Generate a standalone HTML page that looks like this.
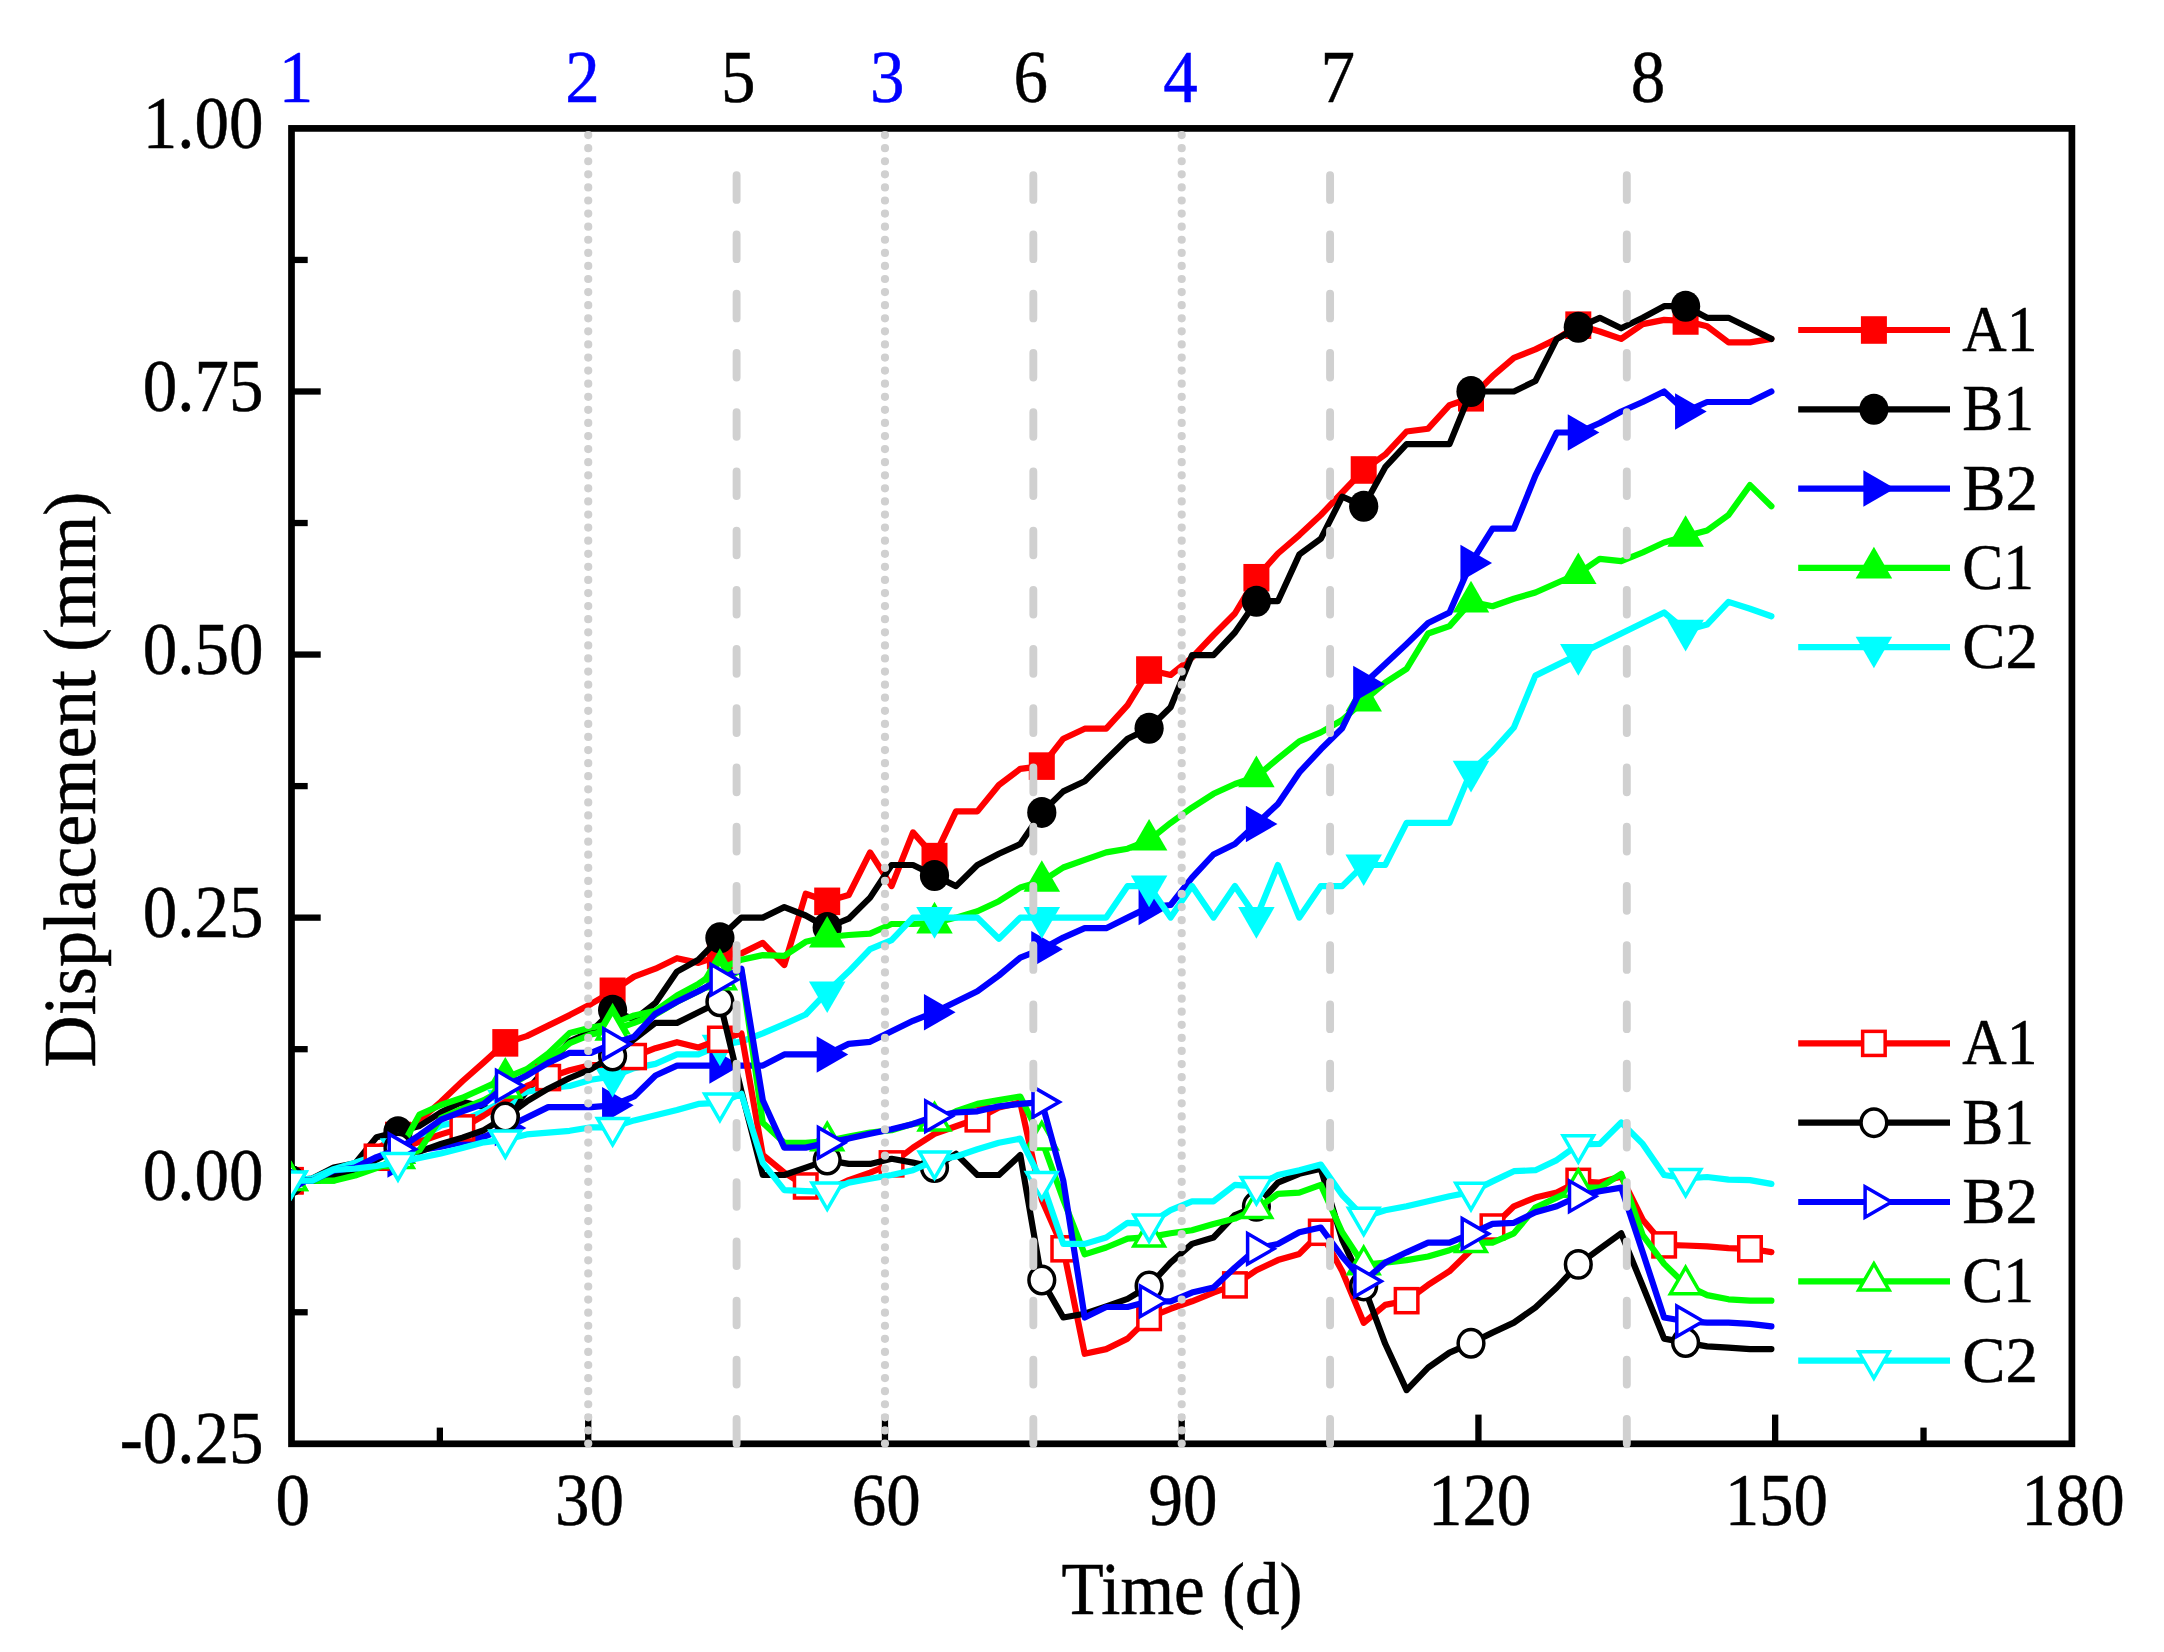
<!DOCTYPE html>
<html><head><meta charset="utf-8"><title>Displacement vs Time</title>
<style>html,body{margin:0;padding:0;background:#fff}svg{display:block}text{font-family:"Liberation Serif", serif;}</style></head><body>
<svg width="2164" height="1652" viewBox="0 0 2164 1652">
<rect width="2164" height="1652" fill="#fff"/>
<defs><clipPath id="cp"><rect x="291.00" y="128.40" width="1780.40" height="1315.40"/></clipPath></defs>
<g stroke="#000" stroke-width="6.30" stroke-linecap="butt">
<line x1="439.87" y1="1443.80" x2="439.87" y2="1427.60"/>
<line x1="588.23" y1="1443.80" x2="588.23" y2="1414.60"/>
<line x1="736.60" y1="1443.80" x2="736.60" y2="1427.60"/>
<line x1="884.97" y1="1443.80" x2="884.97" y2="1414.60"/>
<line x1="1033.33" y1="1443.80" x2="1033.33" y2="1427.60"/>
<line x1="1181.70" y1="1443.80" x2="1181.70" y2="1414.60"/>
<line x1="1330.07" y1="1443.80" x2="1330.07" y2="1427.60"/>
<line x1="1478.43" y1="1443.80" x2="1478.43" y2="1414.60"/>
<line x1="1626.80" y1="1443.80" x2="1626.80" y2="1427.60"/>
<line x1="1775.17" y1="1443.80" x2="1775.17" y2="1414.60"/>
<line x1="1923.53" y1="1443.80" x2="1923.53" y2="1427.60"/>
<line x1="291.50" y1="1312.26" x2="307.70" y2="1312.26"/>
<line x1="291.50" y1="1180.72" x2="320.70" y2="1180.72"/>
<line x1="291.50" y1="1049.18" x2="307.70" y2="1049.18"/>
<line x1="291.50" y1="917.64" x2="320.70" y2="917.64"/>
<line x1="291.50" y1="786.10" x2="307.70" y2="786.10"/>
<line x1="291.50" y1="654.56" x2="320.70" y2="654.56"/>
<line x1="291.50" y1="523.02" x2="307.70" y2="523.02"/>
<line x1="291.50" y1="391.48" x2="320.70" y2="391.48"/>
<line x1="291.50" y1="259.94" x2="307.70" y2="259.94"/>
</g>
<rect x="291.50" y="128.40" width="1780.40" height="1315.40" fill="none" stroke="#000" stroke-width="6.70" stroke-linejoin="miter"/>
<g clip-path="url(#cp)">
<polyline points="290.7,1180.7 312.2,1180.7 333.6,1171.2 355.1,1164.9 376.5,1149.2 398.0,1135.5 419.5,1120.3 440.9,1101.8 462.4,1081.3 483.8,1062.4 505.3,1042.9 526.8,1036.1 548.2,1025.6 569.7,1015.1 591.1,1003.9 612.6,991.3 634.1,976.6 655.5,968.7 677.0,958.2 698.4,962.9 719.9,955.5 741.4,953.4 762.8,942.9 784.3,965.0 805.7,893.8 827.2,901.3 848.7,895.0 870.1,852.4 891.6,886.1 913.0,832.4 934.5,856.6 956.0,811.4 977.4,811.4 998.9,785.0 1020.3,768.8 1041.8,766.1 1063.3,738.7 1084.7,728.7 1106.2,728.7 1127.6,705.1 1149.1,670.0 1170.6,675.0 1192.0,657.7 1213.5,635.0 1234.9,613.5 1256.4,577.7 1277.9,553.5 1299.3,535.1 1320.8,515.0 1342.2,492.5 1363.7,470.0 1385.2,454.6 1406.6,431.5 1428.1,428.7 1449.5,405.2 1471.0,397.8 1492.5,376.2 1513.9,357.8 1535.4,349.4 1556.8,338.9 1578.3,325.2 1599.8,331.5 1621.2,338.9 1642.7,324.1 1664.1,319.9 1685.6,321.0 1707.1,326.2 1728.5,342.4 1750.0,342.4 1771.4,338.9" fill="none" stroke="#ff0000" stroke-width="6.20" stroke-linejoin="round" stroke-linecap="round"/>
<rect x="277.70" y="1166.94" width="26.00" height="27.56" fill="#ff0000" stroke="none"/>
<rect x="385.00" y="1121.69" width="26.00" height="27.56" fill="#ff0000" stroke="none"/>
<rect x="492.30" y="1029.09" width="26.00" height="27.56" fill="#ff0000" stroke="none"/>
<rect x="599.60" y="977.52" width="26.00" height="27.56" fill="#ff0000" stroke="none"/>
<rect x="706.90" y="941.74" width="26.00" height="27.56" fill="#ff0000" stroke="none"/>
<rect x="814.20" y="887.55" width="26.00" height="27.56" fill="#ff0000" stroke="none"/>
<rect x="921.50" y="842.83" width="26.00" height="27.56" fill="#ff0000" stroke="none"/>
<rect x="1028.80" y="752.33" width="26.00" height="27.56" fill="#ff0000" stroke="none"/>
<rect x="1136.10" y="656.25" width="26.00" height="27.56" fill="#ff0000" stroke="none"/>
<rect x="1243.40" y="563.96" width="26.00" height="27.56" fill="#ff0000" stroke="none"/>
<rect x="1350.70" y="456.20" width="26.00" height="27.56" fill="#ff0000" stroke="none"/>
<rect x="1458.00" y="384.01" width="26.00" height="27.56" fill="#ff0000" stroke="none"/>
<rect x="1565.30" y="311.40" width="26.00" height="27.56" fill="#ff0000" stroke="none"/>
<rect x="1672.60" y="307.19" width="26.00" height="27.56" fill="#ff0000" stroke="none"/>
<polyline points="290.7,1180.7 312.2,1178.6 333.6,1167.6 355.1,1163.4 376.5,1137.2 398.0,1131.8 419.5,1126.0 440.9,1112.3 462.4,1101.8 483.8,1107.1 505.3,1117.1 526.8,1091.3 548.2,1065.0 569.7,1041.3 591.1,1031.7 612.6,1010.2 634.1,1019.7 655.5,1002.9 677.0,971.6 698.4,959.7 719.9,937.8 741.4,917.6 762.8,917.6 784.3,907.1 805.7,915.5 827.2,927.5 848.7,918.7 870.1,897.6 891.6,865.0 913.0,865.0 934.5,875.5 956.0,886.1 977.4,865.0 998.9,853.8 1020.3,844.0 1041.8,812.4 1063.3,791.4 1084.7,781.3 1106.2,759.8 1127.6,738.7 1149.1,728.2 1170.6,707.2 1192.0,655.1 1213.5,655.1 1234.9,632.5 1256.4,601.2 1277.9,601.2 1299.3,554.6 1320.8,538.8 1342.2,496.7 1363.7,506.2 1385.2,467.2 1406.6,444.1 1428.1,444.1 1449.5,444.1 1471.0,391.5 1492.5,391.5 1513.9,391.5 1535.4,381.0 1556.8,338.9 1578.3,327.3 1599.8,317.8 1621.2,328.3 1642.7,317.8 1664.1,306.2 1685.6,306.2 1707.1,317.8 1728.5,317.8 1750.0,328.3 1771.4,338.9" fill="none" stroke="#000000" stroke-width="6.20" stroke-linejoin="round" stroke-linecap="round"/>
<ellipse cx="290.70" cy="1180.72" rx="14.60" ry="15.48" fill="#000000" stroke="none"/>
<ellipse cx="398.00" cy="1131.79" rx="14.60" ry="15.48" fill="#000000" stroke="none"/>
<ellipse cx="505.30" cy="1117.05" rx="14.60" ry="15.48" fill="#000000" stroke="none"/>
<ellipse cx="612.60" cy="1010.24" rx="14.60" ry="15.48" fill="#000000" stroke="none"/>
<ellipse cx="719.90" cy="937.84" rx="14.60" ry="15.48" fill="#000000" stroke="none"/>
<ellipse cx="827.20" cy="927.53" rx="14.60" ry="15.48" fill="#000000" stroke="none"/>
<ellipse cx="934.50" cy="875.55" rx="14.60" ry="15.48" fill="#000000" stroke="none"/>
<ellipse cx="1041.80" cy="812.41" rx="14.60" ry="15.48" fill="#000000" stroke="none"/>
<ellipse cx="1149.10" cy="728.22" rx="14.60" ry="15.48" fill="#000000" stroke="none"/>
<ellipse cx="1256.40" cy="601.21" rx="14.60" ry="15.48" fill="#000000" stroke="none"/>
<ellipse cx="1363.70" cy="506.18" rx="14.60" ry="15.48" fill="#000000" stroke="none"/>
<ellipse cx="1471.00" cy="391.48" rx="14.60" ry="15.48" fill="#000000" stroke="none"/>
<ellipse cx="1578.30" cy="327.29" rx="14.60" ry="15.48" fill="#000000" stroke="none"/>
<ellipse cx="1685.60" cy="306.24" rx="14.60" ry="15.48" fill="#000000" stroke="none"/>
<polyline points="290.7,1180.7 312.2,1180.7 333.6,1180.7 355.1,1172.3 376.5,1163.9 398.0,1153.4 419.5,1114.6 440.9,1105.0 462.4,1097.8 483.8,1088.1 505.3,1078.0 526.8,1069.2 548.2,1053.4 569.7,1033.0 591.1,1027.5 612.6,1023.9 634.1,1015.5 655.5,1010.8 677.0,995.5 698.4,983.9 719.9,969.4 741.4,959.7 762.8,955.1 784.3,955.8 805.7,941.8 827.2,937.0 848.7,935.0 870.1,933.7 891.6,924.0 913.0,924.0 934.5,922.9 956.0,917.6 977.4,911.3 998.9,901.2 1020.3,887.5 1041.8,881.3 1063.3,867.5 1084.7,859.8 1106.2,852.4 1127.6,848.7 1149.1,840.1 1170.6,822.9 1192.0,807.6 1213.5,793.8 1234.9,784.0 1256.4,776.6 1277.9,758.7 1299.3,741.3 1320.8,732.4 1342.2,720.0 1363.7,700.9 1385.2,682.6 1406.6,668.8 1428.1,633.5 1449.5,626.1 1471.0,601.9 1492.5,606.2 1513.9,598.8 1535.4,592.5 1556.8,583.0 1578.3,573.5 1599.8,558.8 1621.2,561.2 1642.7,552.5 1664.1,542.5 1685.6,536.3 1707.1,530.4 1728.5,515.0 1750.0,485.1 1771.4,506.2" fill="none" stroke="#00ff00" stroke-width="6.20" stroke-linejoin="round" stroke-linecap="round"/>
<polygon points="290.70,1159.65 308.95,1191.26 272.45,1191.26" fill="#00ff00" stroke="none"/>
<polygon points="398.00,1132.29 416.25,1163.90 379.75,1163.90" fill="#00ff00" stroke="none"/>
<polygon points="505.30,1056.94 523.55,1088.55 487.05,1088.55" fill="#00ff00" stroke="none"/>
<polygon points="612.60,1002.85 630.85,1034.46 594.35,1034.46" fill="#00ff00" stroke="none"/>
<polygon points="719.90,948.34 738.15,979.95 701.65,979.95" fill="#00ff00" stroke="none"/>
<polygon points="827.20,915.93 845.45,947.54 808.95,947.54" fill="#00ff00" stroke="none"/>
<polygon points="934.50,901.83 952.75,933.44 916.25,933.44" fill="#00ff00" stroke="none"/>
<polygon points="1041.80,860.26 1060.05,891.87 1023.55,891.87" fill="#00ff00" stroke="none"/>
<polygon points="1149.10,819.01 1167.35,850.62 1130.85,850.62" fill="#00ff00" stroke="none"/>
<polygon points="1256.40,755.56 1274.65,787.17 1238.15,787.17" fill="#00ff00" stroke="none"/>
<polygon points="1363.70,679.79 1381.95,711.40 1345.45,711.40" fill="#00ff00" stroke="none"/>
<polygon points="1471.00,580.87 1489.25,612.48 1452.75,612.48" fill="#00ff00" stroke="none"/>
<polygon points="1578.30,552.46 1596.55,584.07 1560.05,584.07" fill="#00ff00" stroke="none"/>
<polygon points="1685.60,515.21 1703.85,546.82 1667.35,546.82" fill="#00ff00" stroke="none"/>
<polyline points="290.7,1180.7 312.2,1180.7 333.6,1171.2 355.1,1168.1 376.5,1162.8 398.0,1159.5 419.5,1150.2 440.9,1146.6 462.4,1142.1 483.8,1136.8 505.3,1128.1 526.8,1117.6 548.2,1107.1 569.7,1107.1 591.1,1107.1 612.6,1105.4 634.1,1096.5 655.5,1075.5 677.0,1065.6 698.4,1065.6 719.9,1065.6 741.4,1065.6 762.8,1065.6 784.3,1054.4 805.7,1054.4 827.2,1054.4 848.7,1043.9 870.1,1041.8 891.6,1031.3 913.0,1020.8 934.5,1012.3 956.0,1001.8 977.4,991.3 998.9,975.5 1020.3,957.6 1041.8,949.2 1063.3,937.6 1084.7,928.2 1106.2,928.2 1127.6,917.6 1149.1,907.1 1170.6,905.0 1192.0,877.7 1213.5,854.5 1234.9,844.0 1256.4,824.0 1277.9,804.0 1299.3,772.4 1320.8,749.3 1342.2,728.2 1363.7,684.0 1385.2,664.0 1406.6,644.0 1428.1,623.0 1449.5,612.5 1471.0,563.0 1492.5,528.7 1513.9,528.7 1535.4,475.7 1556.8,432.5 1578.3,432.5 1599.8,423.0 1621.2,411.5 1642.7,402.0 1664.1,391.5 1685.6,411.5 1707.1,402.0 1728.5,402.0 1750.0,402.0 1771.4,391.5" fill="none" stroke="#0000ff" stroke-width="6.20" stroke-linejoin="round" stroke-linecap="round"/>
<polygon points="311.77,1180.72 280.16,1162.47 280.16,1198.97" fill="#0000ff" stroke="none"/>
<polygon points="419.07,1159.46 387.46,1141.21 387.46,1177.71" fill="#0000ff" stroke="none"/>
<polygon points="526.37,1128.10 494.76,1109.85 494.76,1146.35" fill="#0000ff" stroke="none"/>
<polygon points="633.67,1105.37 602.06,1087.12 602.06,1123.62" fill="#0000ff" stroke="none"/>
<polygon points="740.97,1065.60 709.36,1047.35 709.36,1083.85" fill="#0000ff" stroke="none"/>
<polygon points="848.27,1054.44 816.66,1036.19 816.66,1072.69" fill="#0000ff" stroke="none"/>
<polygon points="955.57,1012.35 923.96,994.10 923.96,1030.60" fill="#0000ff" stroke="none"/>
<polygon points="1062.87,949.21 1031.26,930.96 1031.26,967.46" fill="#0000ff" stroke="none"/>
<polygon points="1170.17,907.12 1138.56,888.87 1138.56,925.37" fill="#0000ff" stroke="none"/>
<polygon points="1277.47,823.98 1245.86,805.73 1245.86,842.23" fill="#0000ff" stroke="none"/>
<polygon points="1384.77,684.02 1353.16,665.77 1353.16,702.27" fill="#0000ff" stroke="none"/>
<polygon points="1492.07,563.01 1460.46,544.76 1460.46,581.26" fill="#0000ff" stroke="none"/>
<polygon points="1599.37,432.52 1567.76,414.27 1567.76,450.77" fill="#0000ff" stroke="none"/>
<polygon points="1706.67,411.47 1675.06,393.22 1675.06,429.72" fill="#0000ff" stroke="none"/>
<polyline points="290.7,1180.7 312.2,1178.6 333.6,1169.1 355.1,1162.8 376.5,1155.5 398.0,1148.7 419.5,1138.6 440.9,1125.5 462.4,1120.7 483.8,1111.3 505.3,1100.2 526.8,1091.8 548.2,1088.1 569.7,1086.0 591.1,1079.7 612.6,1076.5 634.1,1068.1 655.5,1063.9 677.0,1054.4 698.4,1054.4 719.9,1045.3 741.4,1041.5 762.8,1033.4 784.3,1024.2 805.7,1014.5 827.2,991.9 848.7,971.6 870.1,949.2 891.6,940.1 913.0,917.6 934.5,917.6 956.0,917.6 977.4,917.6 998.9,938.7 1020.3,917.6 1041.8,917.6 1063.3,917.6 1084.7,917.6 1106.2,917.6 1127.6,886.1 1149.1,886.1 1170.6,917.6 1192.0,886.1 1213.5,917.6 1234.9,886.1 1256.4,917.6 1277.9,865.0 1299.3,917.6 1320.8,886.1 1342.2,886.1 1363.7,865.0 1385.2,865.0 1406.6,822.9 1428.1,822.9 1449.5,822.9 1471.0,771.4 1492.5,751.4 1513.9,727.5 1535.4,675.6 1556.8,665.1 1578.3,654.6 1599.8,644.0 1621.2,633.5 1642.7,623.0 1664.1,612.5 1685.6,630.4 1707.1,624.5 1728.5,601.9 1750.0,608.8 1771.4,616.3" fill="none" stroke="#00ffff" stroke-width="6.20" stroke-linejoin="round" stroke-linecap="round"/>
<polygon points="290.70,1201.79 308.95,1170.18 272.45,1170.18" fill="#00ffff" stroke="none"/>
<polygon points="398.00,1169.80 416.25,1138.19 379.75,1138.19" fill="#00ffff" stroke="none"/>
<polygon points="505.30,1121.29 523.55,1089.68 487.05,1089.68" fill="#00ffff" stroke="none"/>
<polygon points="612.60,1097.61 630.85,1066.00 594.35,1066.00" fill="#00ffff" stroke="none"/>
<polygon points="719.90,1066.36 738.15,1034.75 701.65,1034.75" fill="#00ffff" stroke="none"/>
<polygon points="827.20,1013.01 845.45,981.40 808.95,981.40" fill="#00ffff" stroke="none"/>
<polygon points="934.50,938.71 952.75,907.10 916.25,907.10" fill="#00ffff" stroke="none"/>
<polygon points="1041.80,938.71 1060.05,907.10 1023.55,907.10" fill="#00ffff" stroke="none"/>
<polygon points="1149.10,907.14 1167.35,875.53 1130.85,875.53" fill="#00ffff" stroke="none"/>
<polygon points="1256.40,938.71 1274.65,907.10 1238.15,907.10" fill="#00ffff" stroke="none"/>
<polygon points="1363.70,886.10 1381.95,854.49 1345.45,854.49" fill="#00ffff" stroke="none"/>
<polygon points="1471.00,792.44 1489.25,760.83 1452.75,760.83" fill="#00ffff" stroke="none"/>
<polygon points="1578.30,675.63 1596.55,644.02 1560.05,644.02" fill="#00ffff" stroke="none"/>
<polygon points="1685.60,651.43 1703.85,619.82 1667.35,619.82" fill="#00ffff" stroke="none"/>
<polyline points="290.7,1180.7 312.2,1180.7 333.6,1171.2 355.1,1168.1 376.5,1157.3 398.0,1149.2 419.5,1141.8 440.9,1134.4 462.4,1127.9 483.8,1115.5 505.3,1101.8 526.8,1086.0 548.2,1077.6 569.7,1070.2 591.1,1065.0 612.6,1065.0 634.1,1056.5 655.5,1048.2 677.0,1042.2 698.4,1047.5 719.9,1039.3 741.4,1033.4 762.8,1155.0 784.3,1172.6 805.7,1186.0 827.2,1190.2 848.7,1180.1 870.1,1172.6 891.6,1163.9 913.0,1147.6 934.5,1133.8 956.0,1126.3 977.4,1118.8 998.9,1107.6 1020.3,1102.5 1041.8,1199.7 1063.3,1248.8 1084.7,1353.8 1106.2,1349.1 1127.6,1338.6 1149.1,1317.5 1170.6,1308.8 1192.0,1301.3 1213.5,1292.6 1234.9,1284.9 1256.4,1270.2 1277.9,1260.1 1299.3,1253.9 1320.8,1232.3 1342.2,1271.2 1363.7,1322.8 1385.2,1304.9 1406.6,1300.7 1428.1,1284.9 1449.5,1271.2 1471.0,1250.2 1492.5,1227.0 1513.9,1206.3 1535.4,1197.6 1556.8,1192.6 1578.3,1181.4 1599.8,1182.6 1621.2,1176.5 1642.7,1219.7 1664.1,1244.9 1685.6,1245.5 1707.1,1246.3 1728.5,1248.1 1750.0,1248.8 1771.4,1252.1" fill="none" stroke="#ff0000" stroke-width="6.20" stroke-linejoin="round" stroke-linecap="round"/>
<rect x="279.45" y="1168.69" width="22.50" height="24.06" fill="#fff" stroke="#ff0000" stroke-width="3.50" stroke-linejoin="miter"/>
<rect x="365.29" y="1145.22" width="22.50" height="24.06" fill="#fff" stroke="#ff0000" stroke-width="3.50" stroke-linejoin="miter"/>
<rect x="451.13" y="1115.86" width="22.50" height="24.06" fill="#fff" stroke="#ff0000" stroke-width="3.50" stroke-linejoin="miter"/>
<rect x="536.97" y="1065.56" width="22.50" height="24.06" fill="#fff" stroke="#ff0000" stroke-width="3.50" stroke-linejoin="miter"/>
<rect x="622.81" y="1044.52" width="22.50" height="24.06" fill="#fff" stroke="#ff0000" stroke-width="3.50" stroke-linejoin="miter"/>
<rect x="708.65" y="1027.26" width="22.50" height="24.06" fill="#fff" stroke="#ff0000" stroke-width="3.50" stroke-linejoin="miter"/>
<rect x="794.49" y="1173.95" width="22.50" height="24.06" fill="#fff" stroke="#ff0000" stroke-width="3.50" stroke-linejoin="miter"/>
<rect x="880.33" y="1151.85" width="22.50" height="24.06" fill="#fff" stroke="#ff0000" stroke-width="3.50" stroke-linejoin="miter"/>
<rect x="966.17" y="1106.81" width="22.50" height="24.06" fill="#fff" stroke="#ff0000" stroke-width="3.50" stroke-linejoin="miter"/>
<rect x="1052.01" y="1236.78" width="22.50" height="24.06" fill="#fff" stroke="#ff0000" stroke-width="3.50" stroke-linejoin="miter"/>
<rect x="1137.85" y="1305.49" width="22.50" height="24.06" fill="#fff" stroke="#ff0000" stroke-width="3.50" stroke-linejoin="miter"/>
<rect x="1223.69" y="1272.87" width="22.50" height="24.06" fill="#fff" stroke="#ff0000" stroke-width="3.50" stroke-linejoin="miter"/>
<rect x="1309.53" y="1220.25" width="22.50" height="24.06" fill="#fff" stroke="#ff0000" stroke-width="3.50" stroke-linejoin="miter"/>
<rect x="1395.37" y="1288.65" width="22.50" height="24.06" fill="#fff" stroke="#ff0000" stroke-width="3.50" stroke-linejoin="miter"/>
<rect x="1481.21" y="1214.99" width="22.50" height="24.06" fill="#fff" stroke="#ff0000" stroke-width="3.50" stroke-linejoin="miter"/>
<rect x="1567.05" y="1169.32" width="22.50" height="24.06" fill="#fff" stroke="#ff0000" stroke-width="3.50" stroke-linejoin="miter"/>
<rect x="1652.89" y="1232.88" width="22.50" height="24.06" fill="#fff" stroke="#ff0000" stroke-width="3.50" stroke-linejoin="miter"/>
<rect x="1738.73" y="1236.78" width="22.50" height="24.06" fill="#fff" stroke="#ff0000" stroke-width="3.50" stroke-linejoin="miter"/>
<polyline points="290.7,1180.7 312.2,1180.7 333.6,1176.5 355.1,1172.3 376.5,1159.7 398.0,1148.1 419.5,1151.7 440.9,1143.9 462.4,1137.6 483.8,1130.2 505.3,1117.1 526.8,1101.4 548.2,1088.7 569.7,1078.0 591.1,1069.2 612.6,1056.0 634.1,1039.3 655.5,1022.9 677.0,1022.9 698.4,1012.3 719.9,1001.8 741.4,1091.3 762.8,1175.0 784.3,1175.0 805.7,1167.6 827.2,1160.1 848.7,1163.9 870.1,1163.9 891.6,1158.8 913.0,1162.6 934.5,1167.6 956.0,1153.8 977.4,1175.0 998.9,1175.0 1020.3,1155.0 1041.8,1280.1 1063.3,1317.5 1084.7,1313.8 1106.2,1306.4 1127.6,1298.8 1149.1,1286.0 1170.6,1262.6 1192.0,1243.9 1213.5,1237.5 1234.9,1215.0 1256.4,1206.3 1277.9,1182.6 1299.3,1173.8 1320.8,1168.8 1342.2,1239.6 1363.7,1286.0 1385.2,1343.8 1406.6,1390.1 1428.1,1367.6 1449.5,1352.6 1471.0,1343.3 1492.5,1332.6 1513.9,1322.6 1535.4,1307.5 1556.8,1287.5 1578.3,1264.4 1599.8,1248.8 1621.2,1233.3 1642.7,1286.0 1664.1,1338.6 1685.6,1342.6 1707.1,1346.4 1728.5,1347.6 1750.0,1349.1 1771.4,1349.1" fill="none" stroke="#000000" stroke-width="6.20" stroke-linejoin="round" stroke-linecap="round"/>
<ellipse cx="290.70" cy="1180.72" rx="12.85" ry="13.73" fill="#fff" stroke="#000000" stroke-width="3.50" stroke-linejoin="miter"/>
<ellipse cx="398.00" cy="1148.10" rx="12.85" ry="13.73" fill="#fff" stroke="#000000" stroke-width="3.50" stroke-linejoin="miter"/>
<ellipse cx="505.30" cy="1117.05" rx="12.85" ry="13.73" fill="#fff" stroke="#000000" stroke-width="3.50" stroke-linejoin="miter"/>
<ellipse cx="612.60" cy="1056.02" rx="12.85" ry="13.73" fill="#fff" stroke="#000000" stroke-width="3.50" stroke-linejoin="miter"/>
<ellipse cx="719.90" cy="1001.83" rx="12.85" ry="13.73" fill="#fff" stroke="#000000" stroke-width="3.50" stroke-linejoin="miter"/>
<ellipse cx="827.20" cy="1160.09" rx="12.85" ry="13.73" fill="#fff" stroke="#000000" stroke-width="3.50" stroke-linejoin="miter"/>
<ellipse cx="934.50" cy="1167.57" rx="12.85" ry="13.73" fill="#fff" stroke="#000000" stroke-width="3.50" stroke-linejoin="miter"/>
<ellipse cx="1041.80" cy="1280.06" rx="12.85" ry="13.73" fill="#fff" stroke="#000000" stroke-width="3.50" stroke-linejoin="miter"/>
<ellipse cx="1149.10" cy="1285.95" rx="12.85" ry="13.73" fill="#fff" stroke="#000000" stroke-width="3.50" stroke-linejoin="miter"/>
<ellipse cx="1256.40" cy="1206.29" rx="12.85" ry="13.73" fill="#fff" stroke="#000000" stroke-width="3.50" stroke-linejoin="miter"/>
<ellipse cx="1363.70" cy="1285.95" rx="12.85" ry="13.73" fill="#fff" stroke="#000000" stroke-width="3.50" stroke-linejoin="miter"/>
<ellipse cx="1471.00" cy="1343.30" rx="12.85" ry="13.73" fill="#fff" stroke="#000000" stroke-width="3.50" stroke-linejoin="miter"/>
<ellipse cx="1578.30" cy="1264.38" rx="12.85" ry="13.73" fill="#fff" stroke="#000000" stroke-width="3.50" stroke-linejoin="miter"/>
<ellipse cx="1685.60" cy="1342.57" rx="12.85" ry="13.73" fill="#fff" stroke="#000000" stroke-width="3.50" stroke-linejoin="miter"/>
<polyline points="290.7,1180.7 312.2,1180.7 333.6,1180.7 355.1,1175.5 376.5,1168.1 398.0,1158.6 419.5,1150.2 440.9,1118.2 462.4,1108.6 483.8,1100.2 505.3,1088.1 526.8,1075.5 548.2,1059.7 569.7,1043.2 591.1,1034.4 612.6,1030.2 634.1,1022.9 655.5,1014.5 677.0,1001.8 698.4,991.3 719.9,979.9 741.4,970.3 762.8,1122.8 784.3,1142.8 805.7,1142.8 827.2,1141.0 848.7,1136.5 870.1,1132.5 891.6,1130.2 913.0,1123.9 934.5,1121.3 956.0,1111.3 977.4,1103.9 998.9,1100.1 1020.3,1096.5 1041.8,1140.1 1063.3,1199.7 1084.7,1254.4 1106.2,1247.5 1127.6,1238.6 1149.1,1237.1 1170.6,1233.3 1192.0,1230.2 1213.5,1223.9 1234.9,1218.6 1256.4,1208.8 1277.9,1193.9 1299.3,1192.6 1320.8,1184.9 1342.2,1232.3 1363.7,1264.9 1385.2,1262.6 1406.6,1260.1 1428.1,1256.5 1449.5,1250.2 1471.0,1242.6 1492.5,1242.6 1513.9,1233.3 1535.4,1207.6 1556.8,1197.6 1578.3,1187.6 1599.8,1187.6 1621.2,1173.8 1642.7,1235.1 1664.1,1263.9 1685.6,1284.9 1707.1,1295.1 1728.5,1299.3 1750.0,1300.7 1771.4,1300.7" fill="none" stroke="#00ff00" stroke-width="6.20" stroke-linejoin="round" stroke-linecap="round"/>
<polygon points="290.70,1163.15 305.92,1189.51 275.48,1189.51" fill="#fff" stroke="#00ff00" stroke-width="3.50" stroke-linejoin="miter"/>
<polygon points="398.00,1141.05 413.22,1167.41 382.78,1167.41" fill="#fff" stroke="#00ff00" stroke-width="3.50" stroke-linejoin="miter"/>
<polygon points="505.30,1070.54 520.52,1096.90 490.08,1096.90" fill="#fff" stroke="#00ff00" stroke-width="3.50" stroke-linejoin="miter"/>
<polygon points="612.60,1012.66 627.82,1039.02 597.38,1039.02" fill="#fff" stroke="#00ff00" stroke-width="3.50" stroke-linejoin="miter"/>
<polygon points="719.90,962.36 735.12,988.72 704.68,988.72" fill="#fff" stroke="#00ff00" stroke-width="3.50" stroke-linejoin="miter"/>
<polygon points="827.20,1123.47 842.42,1149.83 811.98,1149.83" fill="#fff" stroke="#00ff00" stroke-width="3.50" stroke-linejoin="miter"/>
<polygon points="934.50,1103.69 949.72,1130.05 919.28,1130.05" fill="#fff" stroke="#00ff00" stroke-width="3.50" stroke-linejoin="miter"/>
<polygon points="1041.80,1122.53 1057.02,1148.89 1026.58,1148.89" fill="#fff" stroke="#00ff00" stroke-width="3.50" stroke-linejoin="miter"/>
<polygon points="1149.10,1219.55 1164.32,1245.91 1133.88,1245.91" fill="#fff" stroke="#00ff00" stroke-width="3.50" stroke-linejoin="miter"/>
<polygon points="1256.40,1191.24 1271.62,1217.60 1241.18,1217.60" fill="#fff" stroke="#00ff00" stroke-width="3.50" stroke-linejoin="miter"/>
<polygon points="1363.70,1247.33 1378.92,1273.69 1348.48,1273.69" fill="#fff" stroke="#00ff00" stroke-width="3.50" stroke-linejoin="miter"/>
<polygon points="1471.00,1225.02 1486.22,1251.38 1455.78,1251.38" fill="#fff" stroke="#00ff00" stroke-width="3.50" stroke-linejoin="miter"/>
<polygon points="1578.30,1169.99 1593.52,1196.35 1563.08,1196.35" fill="#fff" stroke="#00ff00" stroke-width="3.50" stroke-linejoin="miter"/>
<polygon points="1685.60,1267.33 1700.82,1293.69 1670.38,1293.69" fill="#fff" stroke="#00ff00" stroke-width="3.50" stroke-linejoin="miter"/>
<polyline points="290.7,1180.7 312.2,1180.7 333.6,1170.7 355.1,1167.6 376.5,1157.1 398.0,1149.4 419.5,1135.0 440.9,1119.7 462.4,1111.3 483.8,1103.9 505.3,1085.8 526.8,1075.5 548.2,1062.9 569.7,1052.8 591.1,1052.8 612.6,1043.9 634.1,1036.6 655.5,1013.7 677.0,1001.8 698.4,991.3 719.9,979.7 741.4,968.7 762.8,1100.2 784.3,1147.6 805.7,1147.6 827.2,1142.8 848.7,1138.6 870.1,1133.8 891.6,1129.2 913.0,1123.9 934.5,1116.3 956.0,1112.5 977.4,1111.3 998.9,1106.3 1020.3,1103.9 1041.8,1102.1 1063.3,1180.7 1084.7,1317.5 1106.2,1307.0 1127.6,1307.0 1149.1,1301.3 1170.6,1301.3 1192.0,1292.6 1213.5,1287.5 1234.9,1267.5 1256.4,1248.8 1277.9,1243.9 1299.3,1232.3 1320.8,1227.5 1342.2,1256.5 1363.7,1281.3 1385.2,1262.6 1406.6,1252.3 1428.1,1242.6 1449.5,1242.6 1471.0,1233.9 1492.5,1223.9 1513.9,1222.8 1535.4,1212.3 1556.8,1206.3 1578.3,1196.3 1599.8,1191.2 1621.2,1187.6 1642.7,1252.3 1664.1,1317.5 1685.6,1321.3 1707.1,1322.6 1728.5,1322.6 1750.0,1323.8 1771.4,1326.4" fill="none" stroke="#0000ff" stroke-width="6.20" stroke-linejoin="round" stroke-linecap="round"/>
<polygon points="308.27,1180.72 281.91,1165.50 281.91,1195.94" fill="#fff" stroke="#0000ff" stroke-width="3.50" stroke-linejoin="miter"/>
<polygon points="415.57,1149.36 389.21,1134.14 389.21,1164.58" fill="#fff" stroke="#0000ff" stroke-width="3.50" stroke-linejoin="miter"/>
<polygon points="522.87,1085.80 496.51,1070.58 496.51,1101.02" fill="#fff" stroke="#0000ff" stroke-width="3.50" stroke-linejoin="miter"/>
<polygon points="630.17,1043.92 603.81,1028.70 603.81,1059.14" fill="#fff" stroke="#0000ff" stroke-width="3.50" stroke-linejoin="miter"/>
<polygon points="737.47,979.73 711.11,964.51 711.11,994.95" fill="#fff" stroke="#0000ff" stroke-width="3.50" stroke-linejoin="miter"/>
<polygon points="844.77,1142.84 818.41,1127.62 818.41,1158.06" fill="#fff" stroke="#0000ff" stroke-width="3.50" stroke-linejoin="miter"/>
<polygon points="952.07,1116.32 925.71,1101.10 925.71,1131.54" fill="#fff" stroke="#0000ff" stroke-width="3.50" stroke-linejoin="miter"/>
<polygon points="1059.37,1102.11 1033.01,1086.89 1033.01,1117.33" fill="#fff" stroke="#0000ff" stroke-width="3.50" stroke-linejoin="miter"/>
<polygon points="1166.67,1301.32 1140.31,1286.10 1140.31,1316.53" fill="#fff" stroke="#0000ff" stroke-width="3.50" stroke-linejoin="miter"/>
<polygon points="1273.97,1248.81 1247.61,1233.59 1247.61,1264.02" fill="#fff" stroke="#0000ff" stroke-width="3.50" stroke-linejoin="miter"/>
<polygon points="1381.27,1281.32 1354.91,1266.10 1354.91,1296.54" fill="#fff" stroke="#0000ff" stroke-width="3.50" stroke-linejoin="miter"/>
<polygon points="1488.57,1233.86 1462.21,1218.64 1462.21,1249.08" fill="#fff" stroke="#0000ff" stroke-width="3.50" stroke-linejoin="miter"/>
<polygon points="1595.87,1196.29 1569.51,1181.08 1569.51,1211.51" fill="#fff" stroke="#0000ff" stroke-width="3.50" stroke-linejoin="miter"/>
<polygon points="1703.17,1321.31 1676.81,1306.09 1676.81,1336.53" fill="#fff" stroke="#0000ff" stroke-width="3.50" stroke-linejoin="miter"/>
<polyline points="290.7,1180.7 312.2,1180.7 333.6,1169.9 355.1,1168.6 376.5,1166.0 398.0,1162.4 419.5,1157.9 440.9,1153.4 462.4,1148.1 483.8,1142.3 505.3,1139.7 526.8,1134.4 548.2,1132.6 569.7,1130.8 591.1,1127.3 612.6,1127.3 634.1,1120.4 655.5,1115.2 677.0,1109.9 698.4,1103.9 719.9,1102.8 741.4,1093.8 762.8,1162.8 784.3,1190.2 805.7,1191.2 827.2,1191.8 848.7,1182.6 870.1,1178.8 891.6,1175.0 913.0,1170.2 934.5,1160.7 956.0,1156.5 977.4,1149.2 998.9,1142.8 1020.3,1138.6 1041.8,1181.4 1063.3,1243.9 1084.7,1243.9 1106.2,1237.5 1127.6,1222.8 1149.1,1223.9 1170.6,1210.2 1192.0,1201.3 1213.5,1201.3 1234.9,1184.9 1256.4,1186.3 1277.9,1175.0 1299.3,1170.2 1320.8,1164.6 1342.2,1195.0 1363.7,1217.0 1385.2,1210.2 1406.6,1206.3 1428.1,1201.3 1449.5,1196.3 1471.0,1192.1 1492.5,1181.4 1513.9,1171.2 1535.4,1170.2 1556.8,1160.1 1578.3,1144.5 1599.8,1143.9 1621.2,1122.5 1642.7,1143.9 1664.1,1175.0 1685.6,1178.3 1707.1,1177.0 1728.5,1179.7 1750.0,1180.1 1771.4,1183.9" fill="none" stroke="#00ffff" stroke-width="6.20" stroke-linejoin="round" stroke-linecap="round"/>
<polygon points="290.70,1198.29 305.92,1171.93 275.48,1171.93" fill="#fff" stroke="#00ffff" stroke-width="3.50" stroke-linejoin="miter"/>
<polygon points="398.00,1179.98 413.22,1153.62 382.78,1153.62" fill="#fff" stroke="#00ffff" stroke-width="3.50" stroke-linejoin="miter"/>
<polygon points="505.30,1157.25 520.52,1130.89 490.08,1130.89" fill="#fff" stroke="#00ffff" stroke-width="3.50" stroke-linejoin="miter"/>
<polygon points="612.60,1144.84 627.82,1118.48 597.38,1118.48" fill="#fff" stroke="#00ffff" stroke-width="3.50" stroke-linejoin="miter"/>
<polygon points="719.90,1120.42 735.12,1094.06 704.68,1094.06" fill="#fff" stroke="#00ffff" stroke-width="3.50" stroke-linejoin="miter"/>
<polygon points="827.20,1209.34 842.42,1182.98 811.98,1182.98" fill="#fff" stroke="#00ffff" stroke-width="3.50" stroke-linejoin="miter"/>
<polygon points="934.50,1178.30 949.72,1151.94 919.28,1151.94" fill="#fff" stroke="#00ffff" stroke-width="3.50" stroke-linejoin="miter"/>
<polygon points="1041.80,1198.92 1057.02,1172.56 1026.58,1172.56" fill="#fff" stroke="#00ffff" stroke-width="3.50" stroke-linejoin="miter"/>
<polygon points="1149.10,1241.44 1164.32,1215.08 1133.88,1215.08" fill="#fff" stroke="#00ffff" stroke-width="3.50" stroke-linejoin="miter"/>
<polygon points="1256.40,1203.87 1271.62,1177.51 1241.18,1177.51" fill="#fff" stroke="#00ffff" stroke-width="3.50" stroke-linejoin="miter"/>
<polygon points="1363.70,1234.60 1378.92,1208.24 1348.48,1208.24" fill="#fff" stroke="#00ffff" stroke-width="3.50" stroke-linejoin="miter"/>
<polygon points="1471.00,1209.66 1486.22,1183.30 1455.78,1183.30" fill="#fff" stroke="#00ffff" stroke-width="3.50" stroke-linejoin="miter"/>
<polygon points="1578.30,1162.09 1593.52,1135.73 1563.08,1135.73" fill="#fff" stroke="#00ffff" stroke-width="3.50" stroke-linejoin="miter"/>
<polygon points="1685.60,1195.87 1700.82,1169.51 1670.38,1169.51" fill="#fff" stroke="#00ffff" stroke-width="3.50" stroke-linejoin="miter"/>
</g>
<line x1="588.23" y1="1443.50" x2="588.23" y2="134.90" stroke="#d0d0d0" stroke-width="8.20" stroke-linecap="round" stroke-dasharray="0.01 13.074"/>
<line x1="884.97" y1="1443.50" x2="884.97" y2="134.90" stroke="#d0d0d0" stroke-width="8.20" stroke-linecap="round" stroke-dasharray="0.01 13.074"/>
<line x1="1181.70" y1="1443.50" x2="1181.70" y2="134.90" stroke="#d0d0d0" stroke-width="8.20" stroke-linecap="round" stroke-dasharray="0.01 13.074"/>
<line x1="736.60" y1="1443.75" x2="736.60" y2="170.00" stroke="#d0d0d0" stroke-width="7.90" stroke-linecap="round" stroke-dasharray="24.7 34.53"/>
<line x1="1033.33" y1="1443.75" x2="1033.33" y2="170.00" stroke="#d0d0d0" stroke-width="7.90" stroke-linecap="round" stroke-dasharray="24.7 34.53"/>
<line x1="1330.07" y1="1443.75" x2="1330.07" y2="170.00" stroke="#d0d0d0" stroke-width="7.90" stroke-linecap="round" stroke-dasharray="24.7 34.53"/>
<line x1="1626.80" y1="1443.75" x2="1626.80" y2="170.00" stroke="#d0d0d0" stroke-width="7.90" stroke-linecap="round" stroke-dasharray="24.7 34.53"/>
<text transform="translate(292.70,1525.40) scale(0.945,1)" font-size="73.00" text-anchor="middle" fill="#000" stroke="#000" stroke-width="0.5">0</text>
<text transform="translate(589.43,1525.40) scale(0.945,1)" font-size="73.00" text-anchor="middle" fill="#000" stroke="#000" stroke-width="0.5">30</text>
<text transform="translate(886.17,1525.40) scale(0.945,1)" font-size="73.00" text-anchor="middle" fill="#000" stroke="#000" stroke-width="0.5">60</text>
<text transform="translate(1182.90,1525.40) scale(0.945,1)" font-size="73.00" text-anchor="middle" fill="#000" stroke="#000" stroke-width="0.5">90</text>
<text transform="translate(1479.63,1525.40) scale(0.945,1)" font-size="73.00" text-anchor="middle" fill="#000" stroke="#000" stroke-width="0.5">120</text>
<text transform="translate(1776.37,1525.40) scale(0.945,1)" font-size="73.00" text-anchor="middle" fill="#000" stroke="#000" stroke-width="0.5">150</text>
<text transform="translate(2073.10,1525.40) scale(0.945,1)" font-size="73.00" text-anchor="middle" fill="#000" stroke="#000" stroke-width="0.5">180</text>
<text transform="translate(263.50,1463.30) scale(0.945,1)" font-size="73.00" text-anchor="end" fill="#000" stroke="#000" stroke-width="0.5">-0.25</text>
<text transform="translate(263.50,1200.22) scale(0.945,1)" font-size="73.00" text-anchor="end" fill="#000" stroke="#000" stroke-width="0.5">0.00</text>
<text transform="translate(263.50,937.14) scale(0.945,1)" font-size="73.00" text-anchor="end" fill="#000" stroke="#000" stroke-width="0.5">0.25</text>
<text transform="translate(263.50,674.06) scale(0.945,1)" font-size="73.00" text-anchor="end" fill="#000" stroke="#000" stroke-width="0.5">0.50</text>
<text transform="translate(263.50,410.98) scale(0.945,1)" font-size="73.00" text-anchor="end" fill="#000" stroke="#000" stroke-width="0.5">0.75</text>
<text transform="translate(263.50,147.90) scale(0.945,1)" font-size="73.00" text-anchor="end" fill="#000" stroke="#000" stroke-width="0.5">1.00</text>
<text transform="translate(1182.00,1614.10) scale(0.945,1)" font-size="73.00" text-anchor="middle" fill="#000" stroke="#000" stroke-width="0.5">Time (d)</text>
<text transform="translate(94.6,779.5) rotate(-90) scale(0.99,1)" font-size="73.00" text-anchor="middle" fill="#000" stroke="#000" stroke-width="0.5">Displacement (mm)</text>
<text transform="translate(296.00,101.50) scale(0.945,1)" font-size="73.00" text-anchor="middle" fill="#0000ff" stroke="#0000ff" stroke-width="0.5">1</text>
<text transform="translate(582.40,101.50) scale(0.945,1)" font-size="73.00" text-anchor="middle" fill="#0000ff" stroke="#0000ff" stroke-width="0.5">2</text>
<text transform="translate(738.30,101.50) scale(0.945,1)" font-size="73.00" text-anchor="middle" fill="#000" stroke="#000" stroke-width="0.5">5</text>
<text transform="translate(887.30,101.50) scale(0.945,1)" font-size="73.00" text-anchor="middle" fill="#0000ff" stroke="#0000ff" stroke-width="0.5">3</text>
<text transform="translate(1030.70,101.50) scale(0.945,1)" font-size="73.00" text-anchor="middle" fill="#000" stroke="#000" stroke-width="0.5">6</text>
<text transform="translate(1180.40,101.50) scale(0.945,1)" font-size="73.00" text-anchor="middle" fill="#0000ff" stroke="#0000ff" stroke-width="0.5">4</text>
<text transform="translate(1337.80,101.50) scale(0.945,1)" font-size="73.00" text-anchor="middle" fill="#000" stroke="#000" stroke-width="0.5">7</text>
<text transform="translate(1648.00,101.50) scale(0.945,1)" font-size="73.00" text-anchor="middle" fill="#000" stroke="#000" stroke-width="0.5">8</text>
<line x1="1798.2" y1="330.00" x2="1950.0" y2="330.00" stroke="#ff0000" stroke-width="6.20" stroke-linecap="butt"/>
<rect x="1860.90" y="316.22" width="26.00" height="27.56" fill="#ff0000" stroke="none"/>
<text transform="translate(1962.30,351.00) scale(0.945,1)" font-size="65.00" text-anchor="start" fill="#000" stroke="#000" stroke-width="0.5">A1</text>
<line x1="1798.2" y1="409.30" x2="1950.0" y2="409.30" stroke="#000000" stroke-width="6.20" stroke-linecap="butt"/>
<ellipse cx="1873.90" cy="409.30" rx="14.60" ry="15.48" fill="#000000" stroke="none"/>
<text transform="translate(1962.30,430.30) scale(0.945,1)" font-size="65.00" text-anchor="start" fill="#000" stroke="#000" stroke-width="0.5">B1</text>
<line x1="1798.2" y1="488.60" x2="1950.0" y2="488.60" stroke="#0000ff" stroke-width="6.20" stroke-linecap="butt"/>
<polygon points="1894.97,488.60 1863.36,470.35 1863.36,506.85" fill="#0000ff" stroke="none"/>
<text transform="translate(1962.30,509.60) scale(0.997,1)" font-size="65.00" text-anchor="start" fill="#000" stroke="#000" stroke-width="0.5">B2</text>
<line x1="1798.2" y1="567.90" x2="1950.0" y2="567.90" stroke="#00ff00" stroke-width="6.20" stroke-linecap="butt"/>
<polygon points="1873.90,546.83 1892.15,578.44 1855.65,578.44" fill="#00ff00" stroke="none"/>
<text transform="translate(1962.30,588.90) scale(0.945,1)" font-size="65.00" text-anchor="start" fill="#000" stroke="#000" stroke-width="0.5">C1</text>
<line x1="1798.2" y1="647.20" x2="1950.0" y2="647.20" stroke="#00ffff" stroke-width="6.20" stroke-linecap="butt"/>
<polygon points="1873.90,668.27 1892.15,636.66 1855.65,636.66" fill="#00ffff" stroke="none"/>
<text transform="translate(1962.30,668.20) scale(0.997,1)" font-size="65.00" text-anchor="start" fill="#000" stroke="#000" stroke-width="0.5">C2</text>
<line x1="1798.2" y1="1043.40" x2="1950.0" y2="1043.40" stroke="#ff0000" stroke-width="6.20" stroke-linecap="butt"/>
<rect x="1862.65" y="1031.37" width="22.50" height="24.06" fill="#fff" stroke="#ff0000" stroke-width="3.50" stroke-linejoin="miter"/>
<text transform="translate(1962.30,1064.40) scale(0.945,1)" font-size="65.00" text-anchor="start" fill="#000" stroke="#000" stroke-width="0.5">A1</text>
<line x1="1798.2" y1="1122.70" x2="1950.0" y2="1122.70" stroke="#000000" stroke-width="6.20" stroke-linecap="butt"/>
<ellipse cx="1873.90" cy="1122.70" rx="12.85" ry="13.73" fill="#fff" stroke="#000000" stroke-width="3.50" stroke-linejoin="miter"/>
<text transform="translate(1962.30,1143.70) scale(0.945,1)" font-size="65.00" text-anchor="start" fill="#000" stroke="#000" stroke-width="0.5">B1</text>
<line x1="1798.2" y1="1202.00" x2="1950.0" y2="1202.00" stroke="#0000ff" stroke-width="6.20" stroke-linecap="butt"/>
<polygon points="1891.47,1202.00 1865.11,1186.78 1865.11,1217.22" fill="#fff" stroke="#0000ff" stroke-width="3.50" stroke-linejoin="miter"/>
<text transform="translate(1962.30,1223.00) scale(0.997,1)" font-size="65.00" text-anchor="start" fill="#000" stroke="#000" stroke-width="0.5">B2</text>
<line x1="1798.2" y1="1281.30" x2="1950.0" y2="1281.30" stroke="#00ff00" stroke-width="6.20" stroke-linecap="butt"/>
<polygon points="1873.90,1263.73 1889.12,1290.09 1858.68,1290.09" fill="#fff" stroke="#00ff00" stroke-width="3.50" stroke-linejoin="miter"/>
<text transform="translate(1962.30,1302.30) scale(0.945,1)" font-size="65.00" text-anchor="start" fill="#000" stroke="#000" stroke-width="0.5">C1</text>
<line x1="1798.2" y1="1360.60" x2="1950.0" y2="1360.60" stroke="#00ffff" stroke-width="6.20" stroke-linecap="butt"/>
<polygon points="1873.90,1378.17 1889.12,1351.81 1858.68,1351.81" fill="#fff" stroke="#00ffff" stroke-width="3.50" stroke-linejoin="miter"/>
<text transform="translate(1962.30,1381.60) scale(0.997,1)" font-size="65.00" text-anchor="start" fill="#000" stroke="#000" stroke-width="0.5">C2</text>
</svg></body></html>
